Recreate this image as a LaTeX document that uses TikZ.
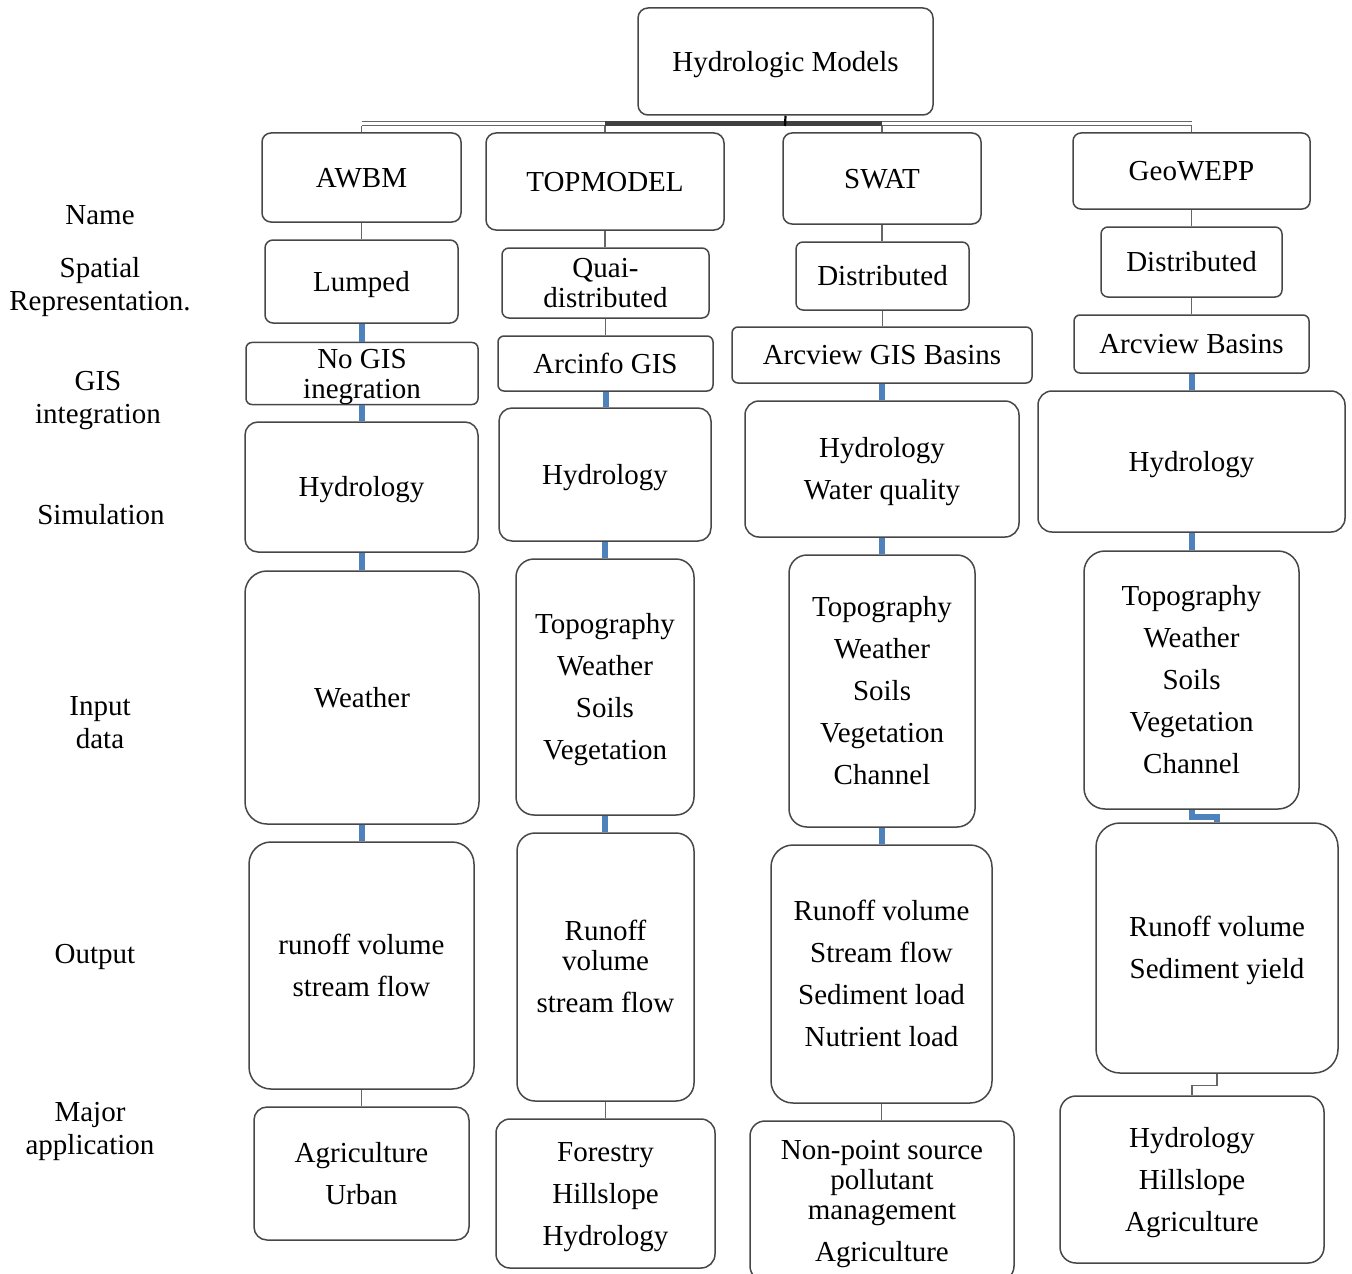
\documentclass[tikz,border=0pt]{standalone}
\usepackage{fontspec}
\setmainfont{Liberation Serif}
\usetikzlibrary{calc}
\definecolor{linkblue}{RGB}{79,129,189}
\newcommand{\topstrut}{\rule{0pt}{12.9pt}}

\begin{document}
\begin{tikzpicture}[x=0.5pt,y=-0.5pt,
	cell/.style={draw=black!72,line width=0.75pt,fill=white,align=center,inner sep=0pt,font=\fontsize{14.5}{15}\selectfont,
		execute at begin node={\rule{0pt}{12.9pt}},execute at end node={\rule[-3.1pt]{0pt}{3.1pt}}},
	rowlabel/.style={align=center,inner sep=0pt,font=\fontsize{14.5}{16.5}\selectfont},
	thinlink/.style={draw=black!60,line width=0.6pt},
	bluelink/.style={draw=linkblue,line width=3pt},
	busbar/.style={draw=black!60,double=white,double distance=1.5pt,line width=0.7pt}]
\path[use as bounding box] (0,0) rectangle (1352,1273);
\clip (0,0) rectangle (1352,1273);
		% row labels
		\node[rowlabel] (lname) at (100,215) {Name};
		\node[rowlabel] (lspatial) at (100,287) {Spatial\\Representation.};
		\node[rowlabel] (lgis) at (98,400.5) {GIS\\integration};
		\node[rowlabel] (lsim) at (101,515) {Simulation};
		\node[rowlabel] (linput) at (100,722.5) {Input\\data};
		\node[rowlabel] (loutput) at (95,957) {Output};
		\node[rowlabel] (lmajor) at (90,1131.5) {Major\\application};
		% root
		\node[cell,rounded corners=5pt,minimum width=147.5pt,minimum height=53.5pt] (models) at (785.5,61.5) {Hydrologic Models};
		% AWBM
		\node[cell,rounded corners=4.5pt,minimum width=99.5pt,minimum height=44.5pt] (awbm) at (361.5,177.5) {AWBM};
		\node[cell,rounded corners=4pt,minimum width=96.5pt,minimum height=41.5pt] (lumped) at (361.5,281.5) {Lumped};
		\node[cell,rounded corners=3pt,minimum width=116pt,minimum height=30.5pt] (nogis) at (362,373.5) {\topstrut No GIS\\inegration};
		\node[cell,rounded corners=6.5pt,minimum width=116.5pt,minimum height=65pt] (hydro1) at (361.5,487) {Hydrology};
		\node[cell,rounded corners=11pt,minimum width=117pt,minimum height=126.5pt] (input1) at (362,697.5) {Weather};
		\node[cell,rounded corners=11pt,minimum width=112.5pt,minimum height=123.5pt] (output1) at (361.5,965.5) {\topstrut runoff volume\\[6pt]stream flow};
		\node[cell,rounded corners=6.5pt,minimum width=107.5pt,minimum height=66.5pt] (appl1) at (361.5,1173.5) {\topstrut Agriculture\\[6pt]Urban};
		% TOPMODEL
		\node[cell,rounded corners=5pt,minimum width=119pt,minimum height=48.5pt] (topmodel) at (605,181.5) {TOPMODEL};
		\node[cell,rounded corners=3.5pt,minimum width=103.5pt,minimum height=35pt] (quai) at (605.5,283) {\topstrut Quai-\\distributed};
		\node[cell,rounded corners=3pt,minimum width=107.5pt,minimum height=27.5pt] (arcinfo) at (605.5,363.5) {Arcinfo GIS};
		\node[cell,rounded corners=6.5pt,minimum width=106pt,minimum height=66.5pt] (hydro2) at (605,474.5) {Hydrology};
		\node[cell,rounded corners=9pt,minimum width=89pt,minimum height=128pt] (input2) at (605,687) {\topstrut Topography\\[6pt]Weather\\[6pt]Soils\\[6pt]Vegetation};
		\node[cell,rounded corners=9pt,minimum width=88.5pt,minimum height=134pt] (output2) at (605.5,967) {\topstrut Runoff\\volume\\[6pt]stream flow};
		\node[cell,rounded corners=7pt,minimum width=109.5pt,minimum height=74.5pt] (appl2) at (605.5,1193.5) {\topstrut Forestry\\[6pt]Hillslope\\[6pt]Hydrology};
		% SWAT
		\node[cell,rounded corners=4.5pt,minimum width=99pt,minimum height=45.5pt] (swat) at (882,178.5) {SWAT};
		\node[cell,rounded corners=3.5pt,minimum width=86.5pt,minimum height=34pt] (distr3) at (882.5,276) {Distributed};
		\node[cell,rounded corners=3pt,minimum width=150pt,minimum height=28pt] (arcgis) at (882,355) {Arcview GIS Basins};
		\node[cell,rounded corners=7pt,minimum width=137pt,minimum height=68pt] (hydro3) at (882,469) {\topstrut Hydrology\\[6pt]Water quality};
		\node[cell,rounded corners=9pt,minimum width=93pt,minimum height=136pt] (input3) at (882,691) {\topstrut Topography\\[6pt]Weather\\[6pt]Soils\\[6pt]Vegetation\\[6pt]Channel};
		\node[cell,rounded corners=11pt,minimum width=110.5pt,minimum height=129pt] (output3) at (881.5,974) {\topstrut Runoff volume\\[6pt]Stream flow\\[6pt]Sediment load\\[6pt]Nutrient load};
		\node[cell,rounded corners=7.5pt,minimum width=132pt,minimum height=80pt] (appl3) at (882,1201) {\topstrut Non-point source\\pollutant\\management\\[6pt]Agriculture};
		% GeoWEPP
		\node[cell,rounded corners=4pt,minimum width=118.5pt,minimum height=38pt] (geowepp) at (1191.5,171) {GeoWEPP};
		\node[cell,rounded corners=3.5pt,minimum width=90.5pt,minimum height=35pt] (distr4) at (1191.5,262) {Distributed};
		\node[cell,rounded corners=3pt,minimum width=117.5pt,minimum height=29pt] (arcbas) at (1191.5,344) {Arcview Basins};
		\node[cell,rounded corners=7pt,minimum width=153.5pt,minimum height=70.5pt] (hydro4) at (1191.5,461.5) {Hydrology};
		\node[cell,rounded corners=10.5pt,minimum width=107.5pt,minimum height=129pt] (input4) at (1191.5,680) {\topstrut Topography\\[6pt]Weather\\[6pt]Soils\\[6pt]Vegetation\\[6pt]Channel};
		\node[cell,rounded corners=12pt,minimum width=121pt,minimum height=125pt] (output4) at (1217,948) {\topstrut Runoff volume\\[6pt]Sediment yield};
		\node[cell,rounded corners=8pt,minimum width=132pt,minimum height=83.5pt] (appl4) at (1192,1179.5) {\topstrut Hydrology\\[6pt]Hillslope\\[6pt]Agriculture};
		% bus under the root
		\coordinate (bus) at (785,123.5);
		\draw[busbar] (awbm.north |- bus) -- (geowepp.north |- bus);
		\draw[line width=2.4pt,black!75] (topmodel.north |- bus) -- (swat.north |- bus);
		\draw[line width=1.1pt] (models.south) -- ($(bus)+(0,2.5)$);
		\draw[thinlink] ($(awbm.north |- bus)+(0,2.5)$) -- (awbm.north);
		\draw[thinlink] ($(topmodel.north |- bus)+(0,2.5)$) -- (topmodel.north);
		\draw[thinlink] ($(swat.north |- bus)+(0,2.5)$) -- (swat.north);
		\draw[thinlink] ($(geowepp.north |- bus)+(0,2.5)$) -- (geowepp.north);
		% AWBM links
		\draw[thinlink] (awbm.south) -- (awbm.south |- lumped.north);
		\draw[bluelink] (lumped.south) -- (lumped.south |- nogis.north);
		\draw[bluelink] (nogis.south) -- (nogis.south |- hydro1.north);
		\draw[bluelink] (hydro1.south) -- (hydro1.south |- input1.north);
		\draw[bluelink] (input1.south) -- (input1.south |- output1.north);
		\draw[thinlink] (output1.south) -- (output1.south |- appl1.north);
		% TOPMODEL links
		\draw[thinlink] (topmodel.south) -- (topmodel.south |- quai.north);
		\draw[thinlink] (quai.south) -- (quai.south |- arcinfo.north);
		\draw[bluelink] (arcinfo.south) -- (arcinfo.south |- hydro2.north);
		\draw[bluelink] (hydro2.south) -- (hydro2.south |- input2.north);
		\draw[bluelink] (input2.south) -- (input2.south |- output2.north);
		\draw[thinlink] (output2.south) -- (output2.south |- appl2.north);
		% SWAT links
		\draw[thinlink] (swat.south) -- (swat.south |- distr3.north);
		\draw[thinlink] (distr3.south) -- (distr3.south |- arcgis.north);
		\draw[bluelink] (arcgis.south) -- (arcgis.south |- hydro3.north);
		\draw[bluelink] (hydro3.south) -- (hydro3.south |- input3.north);
		\draw[bluelink] (input3.south) -- (input3.south |- output3.north);
		\draw[thinlink] (output3.south) -- (output3.south |- appl3.north);
		% GeoWEPP links
		\draw[thinlink] (geowepp.south) -- (geowepp.south |- distr4.north);
		\draw[thinlink] (distr4.south) -- (distr4.south |- arcbas.north);
		\draw[bluelink] (arcbas.south) -- (arcbas.south |- hydro4.north);
		\draw[bluelink] (hydro4.south) -- (hydro4.south |- input4.north);
		\draw[bluelink] (input4.south) -- ++(0,7) -| (output4.north);
		\draw[thinlink] (output4.south) -- ++(0,12) -| (appl4.north);
\end{tikzpicture}
\end{document}
